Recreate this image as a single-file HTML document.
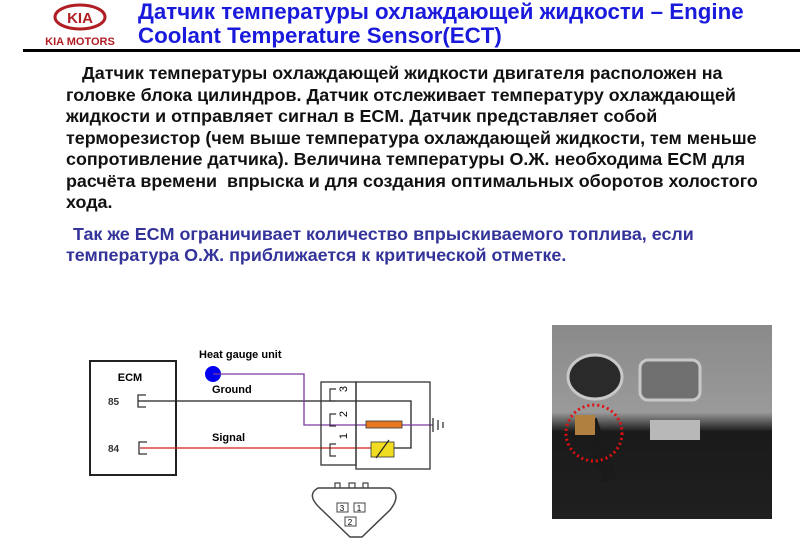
<!DOCTYPE html>
<html><head><meta charset="utf-8"><style>
body{margin:0;width:800px;height:539px;background:#fff;overflow:hidden;position:relative;font-family:"Liberation Sans",Arial,sans-serif}
.t{position:absolute;left:138px;color:#1a1adc;font-weight:bold;font-size:22.3px;white-space:nowrap;line-height:24px}
.l{position:absolute;left:66px;font-weight:bold;font-size:17.9px;white-space:nowrap;color:#111;line-height:20px}
.b{color:#33339a}
</style></head><body>
<svg width="120" height="50" style="position:absolute;left:30px;top:0">
<ellipse cx="50" cy="17" rx="25" ry="12" fill="none" stroke="#b01e23" stroke-width="3"/>
<text x="50" y="23" text-anchor="middle" font-family="Liberation Sans" font-weight="bold" font-size="15" fill="#b01e23">KIA</text>
<text x="50" y="45" text-anchor="middle" font-family="Liberation Sans" font-weight="bold" font-size="11" fill="#b01e23">KIA MOTORS</text>
</svg>
<div class="t" style="top:0px">Датчик температуры охлаждающей жидкости – Engine</div>
<div class="t" style="top:24px">Coolant Temperature Sensor(ECT)</div>
<div style="position:absolute;left:23px;top:49px;width:777px;height:3px;background:#000"></div>
<div class="l" style="top:63px;left:82px">Датчик температуры охлаждающей жидкости двигателя расположен на</div>
<div class="l" style="top:85px">головке блока цилиндров. Датчик отслеживает температуру охлаждающей</div>
<div class="l" style="top:106px">жидкости и отправляет сигнал в ECM. Датчик представляет собой</div>
<div class="l" style="top:128px">терморезистор (чем выше температура охлаждающей жидкости, тем меньше</div>
<div class="l" style="top:149px">сопротивление датчика). Величина температуры О.Ж. необходима ECM для</div>
<div class="l" style="top:171px">расчёта времени&nbsp; впрыска и для создания оптимальных оборотов холостого</div>
<div class="l" style="top:192px">хода.</div>
<div class="l b" style="top:224px;left:73px">Так же ECM ограничивает количество впрыскиваемого топлива, если</div>
<div class="l b" style="top:245px">температура О.Ж. приближается к критической отметке.</div>
<svg width="800" height="539" style="position:absolute;left:0;top:0" font-family="Liberation Sans">
<rect x="90" y="361" width="86" height="114" fill="none" stroke="#222" stroke-width="2"/>
<text x="130" y="381" text-anchor="middle" font-size="11" font-weight="bold">ECM</text>
<text x="108" y="405" font-size="10" font-weight="bold" fill="#333">85</text>
<text x="108" y="452" font-size="10" font-weight="bold" fill="#333">84</text>
<path d="M146 395 H138 V407 H146 M147 442 H139 V454 H147" fill="none" stroke="#333" stroke-width="1.3"/>
<path d="M138 401 H411 V448 H394" fill="none" stroke="#222" stroke-width="1.3"/>
<path d="M140 448 H371" fill="none" stroke="#d02020" stroke-width="1.3"/>
<text x="199" y="358" font-size="11" font-weight="bold">Heat gauge unit</text>
<text x="212" y="393" font-size="11" font-weight="bold">Ground</text>
<text x="212" y="441" font-size="11" font-weight="bold">Signal</text>
<circle cx="213" cy="374" r="8" fill="#0000ee"/>
<path d="M213 374 H304 V425 H433" fill="none" stroke="#7a3aa0" stroke-width="1.3"/>
<rect x="321" y="382" width="35" height="83" fill="none" stroke="#333" stroke-width="1.3"/>
<rect x="356" y="382" width="74" height="87" fill="none" stroke="#333" stroke-width="1.3"/>
<path d="M336 389 H330 V401 H336 M336 414 H330 V426 H336 M336 444 H330 V456 H336" fill="none" stroke="#333" stroke-width="1.2"/>
<text x="343" y="389" font-size="11" transform="rotate(-90 343 389)" text-anchor="middle" dy="4">3</text>
<text x="343" y="414" font-size="11" transform="rotate(-90 343 414)" text-anchor="middle" dy="4">2</text>
<text x="343" y="436" font-size="11" transform="rotate(-90 343 436)" text-anchor="middle" dy="4">1</text>
<rect x="366" y="421" width="36" height="7" fill="#e87820" stroke="#333" stroke-width="0.8"/>
<rect x="371" y="442" width="23" height="15" fill="#f0dc20" stroke="#333" stroke-width="0.8"/>
<path d="M376 458 L389 440" stroke="#222" stroke-width="1.2"/>
<path d="M433 418 V432 M438 420 V430 M443 422 V428" stroke="#333" stroke-width="1.3"/>
<path d="M322 510 Q305 495 318 488 H390 Q402 495 390 510 L362 537 H350 Z" fill="none" stroke="#444" stroke-width="1.5"/>
<path d="M335 488 V483 H340 V488 M349 488 V483 H355 V488 M363 488 V483 H368 V488" fill="none" stroke="#444" stroke-width="1.2"/>
<rect x="337" y="503" width="11" height="9" fill="none" stroke="#444"/><text x="342" y="511" font-size="8" text-anchor="middle">3</text>
<rect x="354" y="503" width="11" height="9" fill="none" stroke="#444"/><text x="359" y="511" font-size="8" text-anchor="middle">1</text>
<rect x="345" y="517" width="11" height="9" fill="none" stroke="#444"/><text x="350" y="525" font-size="8" text-anchor="middle">2</text>
<defs><linearGradient id="g" x1="0" y1="0" x2="0" y2="1"><stop offset="0" stop-color="#8a8a8a"/><stop offset="0.45" stop-color="#9a9a9a"/><stop offset="0.55" stop-color="#1a1a1a"/><stop offset="1" stop-color="#202020"/></linearGradient></defs>
<rect x="552" y="325" width="220" height="194" fill="url(#g)"/>
<ellipse cx="595" cy="377" rx="27" ry="22" fill="#2a2a2a" stroke="#c8c8c8" stroke-width="3"/>
<rect x="640" y="360" width="60" height="40" rx="8" fill="#707070" stroke="#c8c8c8" stroke-width="3"/>
<rect x="650" y="420" width="50" height="20" fill="#b8b8b8"/>
<path d="M590 420 L610 480" stroke="#1a1a1a" stroke-width="14"/>
<circle cx="594" cy="433" r="28" fill="none" stroke="#e01010" stroke-width="3" stroke-dasharray="2 3"/>
<rect x="575" y="415" width="20" height="20" fill="#b08040"/>
</svg>
</body></html>
